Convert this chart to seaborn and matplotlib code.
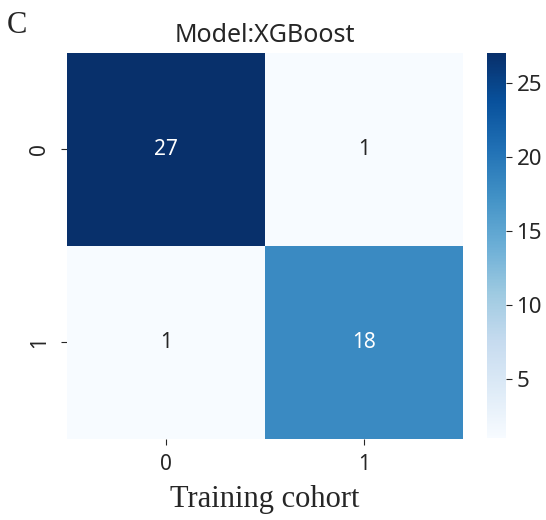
import numpy as np
import matplotlib
matplotlib.use("Agg")
import matplotlib.pyplot as plt
import seaborn as sns

# Confusion matrix for the training cohort
labels = ["0", "1"]
row_0 = [27, 1]
row_1 = [1, 18]
matrix = np.array([row_0, row_1])

sns.set_style("white")
plt.rcParams["font.family"] = ["Noto Sans", "DejaVu Sans"]

fig = plt.figure(figsize=(5.46, 5.2), dpi=100)
ax = fig.add_axes([0.1227, 0.1558, 0.7253, 0.7423])
cax = fig.add_axes([0.892, 0.1577, 0.0348, 0.7404])

sns.heatmap(matrix, annot=True, fmt="d", cmap="Blues", ax=ax, cbar_ax=cax,
            xticklabels=labels, yticklabels=labels,
            annot_kws={"fontsize": 15})

ax.set_title("Model:XGBoost", fontsize=18, pad=8)
ax.set_xlabel("Training cohort", fontsize=22, family="Liberation Serif", labelpad=7)
ax.tick_params(axis="both", labelsize=15, length=4, left=True, bottom=True)
ax.tick_params(axis="y", pad=8)
ax.tick_params(axis="x", pad=7)
ax.set_yticklabels(labels, rotation=90, va="center")
cax.tick_params(labelsize=16, length=4)
for s in cax.spines.values():
    s.set_visible(False)

fig.text(0.013, 0.9365, "C", fontsize=22, family="Liberation Serif")

fig.savefig("out.png", dpi=100)
